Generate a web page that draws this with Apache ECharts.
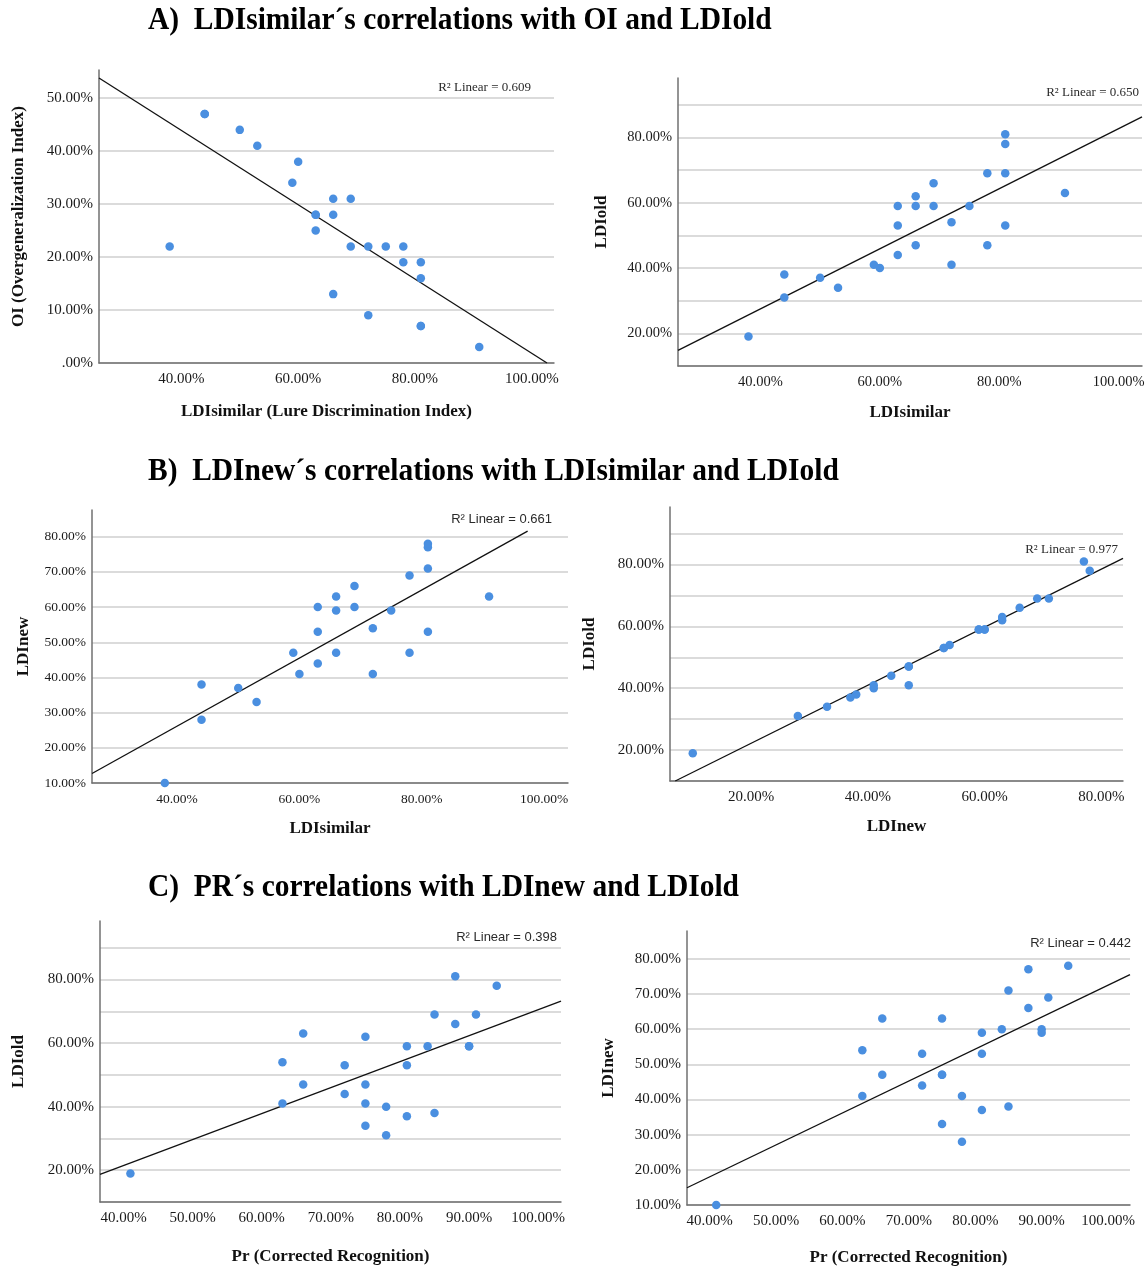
<!DOCTYPE html>
<html><head><meta charset="utf-8">
<script src="https://cdn.jsdelivr.net/npm/echarts@6/dist/echarts.min.js"></script>
<style>html,body{margin:0;padding:0;background:#fff}#c{width:1148px;height:1268px}</style>
</head><body><div id="c"></div>
<script>
// ---- per-participant values ----
const ldiSimilar = [38,44,44,50,53,59,60,63,63,63,66,66,66,69,69,72,72,75,78,78,81,81,81,81,91];
const ldiOld     = [19,38,31,37,34,41,40,59,53,44,62,59,47,66,59,54,41,59,69,47,81,78,69,53,63];
const ldiNew     = [10,38,28,37,33,47,41,60,53,44,63,59,47,66,60,54,41,59,69,47,77,78,71,53,63];
const oi         = [22,47,47,44,41,34,38,28,28,25,31,28,13,31,22,22,9,22,22,19,19,16,7,7,3];
const pr         = [41,85,78,81,75,75,78,84,72,72,75,81,66,88,90,63,63,90,91,75,88,94,85,81,66];

// ---- fit line end points ----
const fitA1X = [25.9, 102.6], fitA1Y = [53.8, 0];
const fitA2X = [26.2, 103.9], fitA2Y = [14.8, 86.3];
const fitB1X = [26.1, 97.3],  fitB1Y = [12.7, 81.6];
const fitB2X = [7.0, 83.7],   fitB2Y = [10.0, 82.0];
const fitC1X = [36.6, 103.3], fitC1Y = [18.7, 73.2];
const fitC2X = [36.6, 103.3], fitC2Y = [14.9, 75.5];

// ---- R squared values ----
const r2Values = ['0.609','0.650','0.661','0.977','0.398','0.442'];

// ---- tick labels / grid values ----
const xLabelsLDIs = [40,60,80,100];
const xLabelsLDIn = [20,40,60,80];
const xLabelsPr   = [40,50,60,70,80,90,100];
const yLabelsA1 = [0,10,20,30,40,50];
const yGridA1   = [0,10,20,30,40,50];
const yLabels20 = [20,40,60,80];
const yGrid90   = [10,20,30,40,50,60,70,80,90];
const yLabels10 = [10,20,30,40,50,60,70,80];
const yGrid80   = [10,20,30,40,50,60,70,80];

const headings = [
  'A)  LDIsimilar\u00b4s correlations with OI and LDIold',
  'B)  LDInew\u00b4s correlations with LDIsimilar and LDIold',
  'C)  PR\u00b4s correlations with LDInew and LDIold'
];

const SERIF = '"Liberation Serif", "Times New Roman", serif';
const SANS = '"Liberation Sans", Arial, sans-serif';

const panels = [
  {grid:{left:99,top:70,width:455,height:293}, xr:[25.9,103.8], yr:[0,55.3],
   xl:xLabelsLDIs, yl:yLabelsA1, yg:yGridA1, x:ldiSimilar, y:oi, fx:fitA1X, fy:fitA1Y,
   xName:'LDIsimilar (Lure Discrimination Index)', yName:'OI (Overgeneralization Index)',
   fs:15, xGap:40, yGap:72, r2:{x:531,y:88,font:SERIF}},
  {grid:{left:678,top:78,width:464,height:288}, xr:[26.2,103.9], yr:[10,98.2],
   xl:xLabelsLDIs, yl:yLabels20, yg:yGrid90, x:ldiSimilar, y:ldiOld, fx:fitA2X, fy:fitA2Y,
   xName:'LDIsimilar', yName:'LDIold', fs:14.5, xGap:38, yGap:68, r2:{x:1139,y:93,font:SERIF}},
  {grid:{left:92,top:510,width:476,height:273}, xr:[26.1,103.9], yr:[10,87.6],
   xl:xLabelsLDIs, yl:yLabels10, yg:yGrid80, x:ldiSimilar, y:ldiNew, fx:fitB1X, fy:fitB1Y,
   xName:'LDIsimilar', yName:'LDInew', fs:13.5, xGap:37, yGap:60, r2:{x:552,y:519,font:SANS}},
  {grid:{left:670,top:507,width:453,height:274}, xr:[6.1,83.7], yr:[10,98.6],
   xl:xLabelsLDIn, yl:yLabels20, yg:yGrid90, x:ldiNew, y:ldiOld, fx:fitB2X, fy:fitB2Y,
   xName:'LDInew', yName:'LDIold', fs:15, xGap:37, yGap:72, r2:{x:1118,y:550,font:SERIF}},
  {grid:{left:100,top:921,width:461,height:281}, xr:[36.6,103.3], yr:[10,98.4],
   xl:xLabelsPr, yl:yLabels20, yg:yGrid90, x:pr, y:ldiOld, fx:fitC1X, fy:fitC1Y,
   xName:'Pr (Corrected Recognition)', yName:'LDIold', fs:15, xGap:46, yGap:73, r2:{x:557,y:937,font:SANS}},
  {grid:{left:687,top:931,width:443,height:274}, xr:[36.6,103.3], yr:[10,87.9],
   xl:xLabelsPr, yl:yLabels10, yg:yGrid80, x:pr, y:ldiNew, fx:fitC2X, fy:fitC2Y,
   xName:'Pr (Corrected Recognition)', yName:'LDInew', fs:15, xGap:44, yGap:70, r2:{x:1131,y:943,font:SANS}}
];

function pct(v){ const s = Number(v).toFixed(2) + '%'; return s.startsWith('0.') ? s.slice(1) : s; }

const grid = [], xAxis = [], yAxis = [], series = [], graphic = [];
panels.forEach((p, i) => {
  grid.push(Object.assign({containLabel:false}, p.grid));
  xAxis.push({
    type:'value', gridIndex:i, min:p.xr[0], max:p.xr[1],
    name:p.xName, nameLocation:'middle', nameGap:p.xGap,
    nameTextStyle:{fontFamily:SERIF, fontWeight:'bold', fontSize:17, color:'#111'},
    axisLine:{show:true, onZero:false, lineStyle:{color:'#707070', width:1.5}},
    axisTick:{show:false, customValues:p.xl},
    axisLabel:{customValues:p.xl, formatter:pct, fontFamily:SERIF, fontSize:p.fs, color:'#1a1a1a', margin:9},
    splitLine:{show:false}
  });
  yAxis.push({
    type:'value', gridIndex:i, min:p.yr[0], max:p.yr[1],
    name:p.yName, nameLocation:'middle', nameGap:p.yGap, nameRotate:90,
    nameTextStyle:{fontFamily:SERIF, fontWeight:'bold', fontSize:17, color:'#111'},
    axisLine:{show:true, onZero:false, lineStyle:{color:'#707070', width:1.5}},
    axisTick:{show:false, customValues:p.yg},
    axisLabel:{customValues:p.yl, formatter:pct, fontFamily:SERIF, fontSize:p.fs, color:'#1a1a1a', margin:6},
    splitLine:{show:true, lineStyle:{color:'#cfcfcf', width:1.5}}
  });
  series.push({
    type:'line', xAxisIndex:i, yAxisIndex:i, symbol:'none', silent:true,
    data:p.fx.map((v,k)=>[v,p.fy[k]]),
    lineStyle:{color:'#111', width:1.3}, z:2
  });
  series.push({
    type:'scatter', xAxisIndex:i, yAxisIndex:i, symbolSize:8.5,
    data:p.x.map((v,k)=>[v,p.y[k]]),
    itemStyle:{color:'#4a8fe0', opacity:1}, z:3
  });
  graphic.push({
    type:'text', x:p.r2.x, y:p.r2.y,
    style:{text:'R\u00b2 Linear = ' + r2Values[i], font:'13px ' + p.r2.font, fill:'#2a2a2a', align:'right', verticalAlign:'middle'}
  });
});

const headingY = [21, 472, 888];
headings.forEach((h, i) => {
  graphic.push({
    type:'text', x:148, y:headingY[i], scaleX:0.95, originX:0,
    style:{text:h, font:'bold 31px ' + SERIF, fill:'#000', align:'left', verticalAlign:'middle'}
  });
});

const chart = echarts.init(document.getElementById('c'), null, {renderer:'canvas'});
chart.setOption({
  animation:false, backgroundColor:'#fff',
  grid, xAxis, yAxis, series, graphic
});
</script>
</body></html>
